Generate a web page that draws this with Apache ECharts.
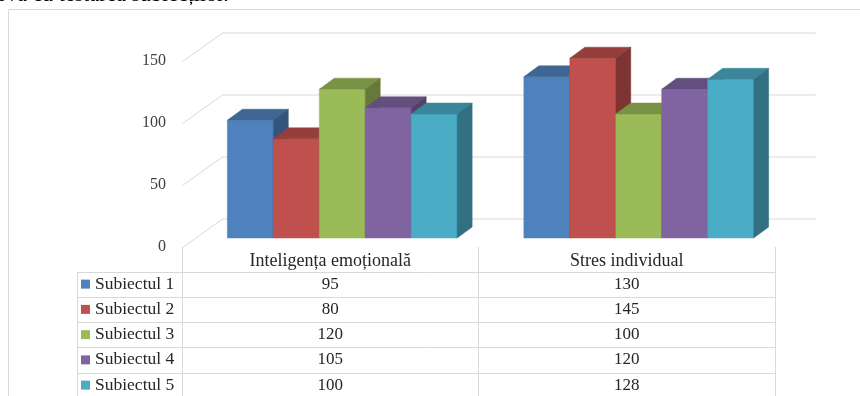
<!DOCTYPE html>
<html>
<head>
<meta charset="utf-8">
<script src="https://cdn.jsdelivr.net/npm/echarts@6/dist/echarts.min.js"></script>
<style>
  html, body { margin: 0; padding: 0; background: #fff; }
  #chart { width: 860px; height: 396px; }
</style>
</head>
<body>
<div id="chart"></div>
<script>
// datele graficului
var categories = ['Inteligența emoțională', 'Stres individual']
var subjects = ['Subiectul 1', 'Subiectul 2', 'Subiectul 3', 'Subiectul 4', 'Subiectul 5']
var subiectul1 = [95, 130]
var subiectul2 = [80, 145]
var subiectul3 = [120, 100]
var subiectul4 = [105, 120]
var subiectul5 = [100, 128]
var valueTicks = [0, 50, 100, 150]
var pageLine = 'rva cu testarea subiecților.'

var seriesValues = [subiectul1, subiectul2, subiectul3, subiectul4, subiectul5]

// culori
var colors = ['#4F81BD', '#C0504D', '#9BBB59', '#8064A2', '#4BACC6']
var gridColor = '#d9d9d9'
var textColor = '#262626'
var serif = 'Liberation Serif'

// perspectiva (px)
var wallDx = 40, wallDy = -28.5   // de la planul din fata la peretele din spate
var barDx = 12, barDy = -9        // fata barelor fata de planul din fata
var boxDx = 15, boxDy = -11       // adancimea unei bare
var rowH = 25.25, tableTop = 271.5

function shade(hex, k) {
  var n = parseInt(hex.slice(1), 16)
  var r = Math.round(((n >> 16) & 255) * k)
  var g = Math.round(((n >> 8) & 255) * k)
  var b = Math.round((n & 255) * k)
  return 'rgb(' + r + ',' + g + ',' + b + ')'
}

var chart = echarts.init(document.getElementById('chart'))

function barRender(idx) {
  var front = colors[idx], top = shade(colors[idx], 0.78), side = shade(colors[idx], 0.65)
  return function (params, api) {
    var c = api.value(0)
    var pt = api.coord([c, api.value(1)])
    var pb = api.coord([c, 0])
    var w = api.size([1, 0])[0] * 0.155
    var x0 = pt[0] + barDx + (idx - 2.5) * w
    var x1 = x0 + w
    var y0 = pt[1] + barDy
    var y1 = pb[1] + barDy
    return {
      type: 'group',
      children: [
        {type: 'rect', shape: {x: x0, y: y0, width: w, height: y1 - y0},
          style: {fill: front, stroke: front, lineWidth: 0.5}},
        {type: 'polygon', shape: {points: [[x0, y0], [x1, y0], [x1 + boxDx, y0 + boxDy], [x0 + boxDx, y0 + boxDy]]},
          style: {fill: top, stroke: top, lineWidth: 0.5}},
        {type: 'polygon', shape: {points: [[x1, y0], [x1 + boxDx, y0 + boxDy], [x1 + boxDx, y1 + boxDy], [x1, y1]]},
          style: {fill: side, stroke: side, lineWidth: 0.5}}
      ]
    }
  }
}

var series = []

// peretele din spate si liniile laterale
series.push({
  type: 'custom',
  z: 1,
  silent: true,
  data: valueTicks.map(function (v) { return [0, v] }),
  encode: {x: 0, y: 1},
  renderItem: function (params, api) {
    var cs = params.coordSys
    var y = Math.round(api.coord([0, api.value(1)])[1]) + 0.5
    var x = cs.x + 0.5
    return {
      type: 'polyline',
      shape: {points: [[x, y], [x + wallDx, y + wallDy], [x + wallDx + cs.width, y + wallDy]]},
      style: {stroke: gridColor, lineWidth: 1, fill: null}
    }
  }
})

subjects.forEach(function (name, i) {
  series.push({
    name: name,
    type: 'custom',
    z: 2,
    itemStyle: {color: colors[i]},
    data: seriesValues[i].map(function (v, c) { return [c, v] }),
    encode: {x: 0, y: 1},
    renderItem: barRender(i)
  })
})

// valorile din tabel
var tableData = []
subjects.forEach(function (name, s) {
  categories.forEach(function (cat, c) {
    tableData.push([c, s, seriesValues[s][c]])
  })
})
series.push({
  type: 'custom',
  z: 3,
  silent: true,
  data: tableData,
  encode: {x: 0, y: 1},
  renderItem: function (params, api) {
    var x = api.coord([api.value(0), 0])[0]
    var y = tableTop + (api.value(1) + 0.5) * rowH
    return {
      type: 'text',
      x: x, y: y,
      style: {text: String(api.value(2)), fill: textColor, fontFamily: serif, fontSize: 17,
        align: 'center', verticalAlign: 'middle'}
    }
  }
})

// liniile tabelului si chenarul
var lines = []
for (var k = 0; k <= 5; k++) {
  var y = Math.round(tableTop + k * rowH) + 0.5
  lines.push({type: 'line', shape: {x1: 77, y1: y, x2: 775.5, y2: y}, style: {stroke: gridColor, lineWidth: 1}})
}
lines.push({type: 'line', shape: {x1: 77.5, y1: 271.5, x2: 77.5, y2: 396}, style: {stroke: gridColor, lineWidth: 1}})
;[182.5, 478.5, 775.5].forEach(function (x) {
  lines.push({type: 'line', shape: {x1: x, y1: 247, x2: x, y2: 396}, style: {stroke: gridColor, lineWidth: 1}})
})
lines.push({type: 'line', shape: {x1: 8.5, y1: 9.5, x2: 860, y2: 9.5}, style: {stroke: gridColor, lineWidth: 1}})
lines.push({type: 'line', shape: {x1: 8.5, y1: 9.5, x2: 8.5, y2: 396}, style: {stroke: gridColor, lineWidth: 1}})
lines.push({type: 'text', x: -1, y: 6,
  style: {text: pageLine, fill: '#000', fontFamily: serif, fontSize: 22, verticalAlign: 'bottom'}})

chart.setOption({
  animation: false,
  backgroundColor: '#fff',
  grid: {left: 182, top: 61, width: 593, height: 186, containLabel: false},
  legend: {
    data: subjects,
    orient: 'vertical',
    left: 81,
    top: tableTop,
    height: 160,
    padding: 0,
    itemGap: 0,
    itemWidth: 9,
    itemHeight: 9,
    icon: 'rect',
    selectedMode: false,
    textStyle: {fontFamily: serif, fontSize: 17.5, color: textColor, lineHeight: rowH}
  },
  xAxis: {
    type: 'category',
    data: categories,
    axisLine: {show: false},
    axisTick: {show: false},
    axisLabel: {margin: 5, fontFamily: serif, fontSize: 18, color: textColor}
  },
  yAxis: {
    type: 'value',
    min: 0,
    max: 150,
    interval: 50,
    axisLine: {show: false},
    axisTick: {show: false},
    splitLine: {show: false},
    axisLabel: {margin: 16, fontFamily: serif, fontSize: 16, color: '#404040'}
  },
  graphic: lines,
  series: series
})
</script>
</body>
</html>
